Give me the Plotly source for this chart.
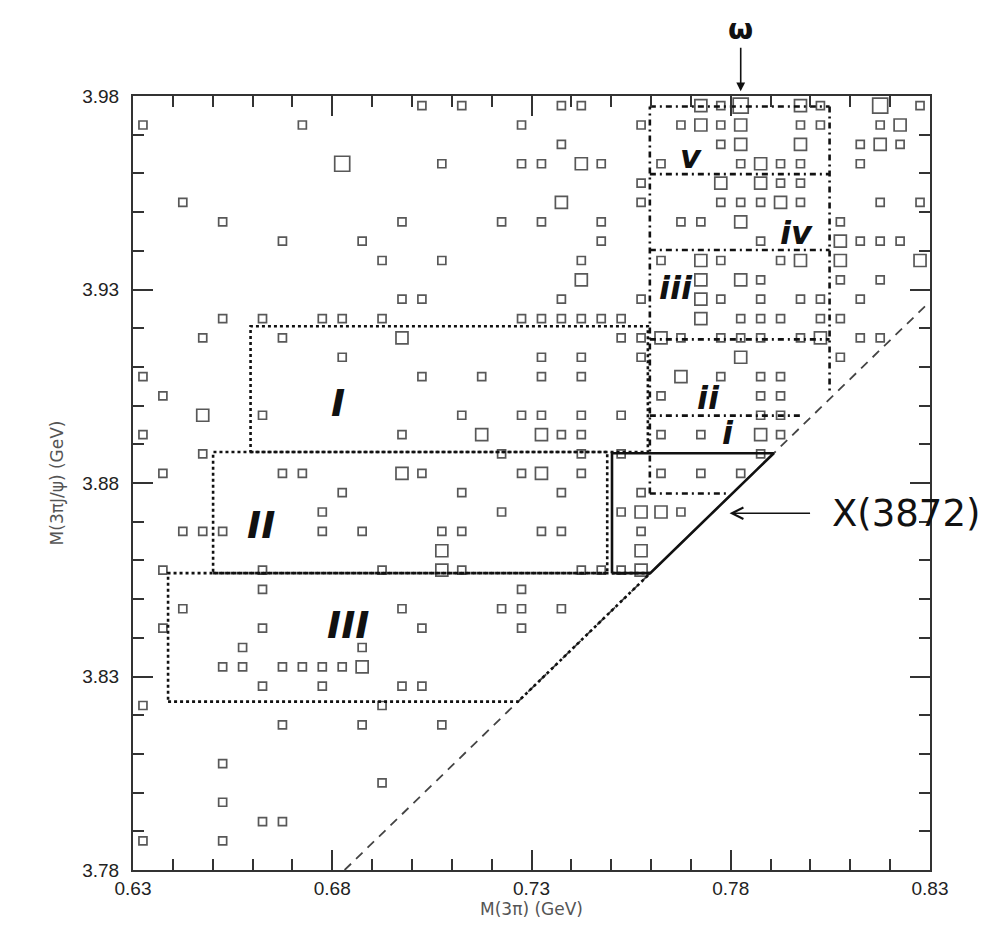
import plotly.graph_objects as go

# ---- event bins (M(3pi), M(3pi J/psi)) and counts per 5 MeV x 5 MeV bin ----
m3pi = [
    0.7025, 0.7125, 0.7375, 0.7425, 0.7725, 0.7775, 0.7825, 0.7975, 0.8025, 0.8175, 0.8275,
    0.6325, 0.6725, 0.7275, 0.7575, 0.7675, 0.7725, 0.7775, 0.7825, 0.7975, 0.8025, 0.8175, 0.8225,
    0.7375, 0.7775, 0.7825, 0.7975, 0.8125, 0.8175, 0.8225,
    0.6825, 0.7075, 0.7275, 0.7325, 0.7425, 0.7475, 0.7625, 0.7825, 0.7875, 0.7925, 0.7975, 0.8125,
    0.7575, 0.7775, 0.7875, 0.7925, 0.7975,
    0.6425, 0.7375, 0.7575, 0.7775, 0.7825, 0.7875, 0.7925, 0.7975, 0.8175, 0.8275,
    0.6525, 0.6975, 0.7225, 0.7325, 0.7475, 0.7675, 0.7725, 0.7825, 0.8075,
    0.6675, 0.6875, 0.7475, 0.7875, 0.8075, 0.8125, 0.8175, 0.8225,
    0.6925, 0.7075, 0.7425, 0.7625, 0.7725, 0.7775, 0.7925, 0.7975, 0.8075, 0.8275,
    0.7425, 0.7725, 0.7825, 0.7875, 0.8075, 0.8175,
    0.6975, 0.7025, 0.7375, 0.7575, 0.7725, 0.7775, 0.7875, 0.7975, 0.8025, 0.8125,
    0.6525, 0.6625, 0.6775, 0.6825, 0.6925, 0.7275, 0.7325, 0.7375, 0.7425, 0.7475, 0.7525,
    0.7725, 0.7825, 0.7875, 0.7925, 0.8025, 0.8075,
    0.6475, 0.6675, 0.6975, 0.7525, 0.7575, 0.7625, 0.7675, 0.7775, 0.7825, 0.7875, 0.7975,
    0.8025, 0.8125, 0.8175,
    0.6825, 0.7325, 0.7425, 0.7575, 0.7825, 0.8075,
    0.6325, 0.7025, 0.7175, 0.7325, 0.7425, 0.7675, 0.7775, 0.7875, 0.7925,
    0.6375, 0.7625, 0.7875, 0.7925,
    0.6475, 0.6625, 0.7125, 0.7275, 0.7325, 0.7425, 0.7525, 0.7875, 0.7925,
    0.6325, 0.6975, 0.7175, 0.7325, 0.7375, 0.7425, 0.7625, 0.7725, 0.7875, 0.7925,
    0.6475, 0.7225, 0.7425, 0.7525, 0.7875,
    0.6375, 0.6675, 0.6725, 0.6975, 0.7025, 0.7275, 0.7325, 0.7425, 0.7625, 0.7725, 0.7825,
    0.6825, 0.7125, 0.7375, 0.7575,
    0.6775, 0.7225, 0.7525, 0.7575, 0.7625, 0.7675,
    0.6425, 0.6475, 0.6525, 0.6775, 0.6875, 0.7075, 0.7125, 0.7325, 0.7375, 0.7575,
    0.7075, 0.7575,
    0.6375, 0.6625, 0.6925, 0.7075, 0.7125, 0.7425, 0.7475, 0.7525, 0.7575,
    0.6625, 0.7275,
    0.6425, 0.6975, 0.7225, 0.7275, 0.7375,
    0.6375, 0.6625, 0.7025, 0.7275,
    0.6575, 0.6875,
    0.6525, 0.6575, 0.6675, 0.6725, 0.6775, 0.6825, 0.6875,
    0.6625, 0.6775, 0.6975, 0.7025,
    0.6325, 0.6925,
    0.6675, 0.6875, 0.7075,
    0.6525,
    0.6925,
    0.6525,
    0.6625, 0.6675,
    0.6325, 0.6525,
]
m3pijpsi = (
    [3.9775] * 11 + [3.9725] * 12 + [3.9675] * 7 + [3.9625] * 12 + [3.9575] * 5
    + [3.9525] * 10 + [3.9475] * 9 + [3.9425] * 8 + [3.9375] * 10 + [3.9325] * 6
    + [3.9275] * 10 + [3.9225] * 17 + [3.9175] * 14 + [3.9125] * 6 + [3.9075] * 9
    + [3.9025] * 4 + [3.8975] * 9 + [3.8925] * 10 + [3.8875] * 5 + [3.8825] * 11
    + [3.8775] * 4 + [3.8725] * 6 + [3.8675] * 10 + [3.8625] * 2 + [3.8575] * 9
    + [3.8525] * 2 + [3.8475] * 5 + [3.8425] * 4 + [3.8375] * 2 + [3.8325] * 7
    + [3.8275] * 4 + [3.8225] * 2 + [3.8175] * 3 + [3.8075] * 1 + [3.8025] * 1
    + [3.7975] * 1 + [3.7925] * 2 + [3.7875] * 2
)
counts = [
    1, 1, 1, 1, 2, 1, 3, 2, 1, 3, 1,
    1, 1, 1, 1, 1, 2, 1, 2, 1, 1, 1, 2,
    1, 1, 2, 2, 1, 2, 1,
    3, 1, 1, 1, 2, 1, 1, 1, 2, 1, 1, 1,
    1, 2, 2, 1, 1,
    1, 2, 1, 1, 1, 1, 2, 1, 1, 1,
    1, 1, 1, 1, 1, 1, 1, 2, 1,
    1, 1, 1, 1, 2, 1, 1, 1,
    1, 1, 1, 1, 2, 1, 1, 2, 2, 2,
    2, 2, 2, 1, 1, 1,
    1, 1, 1, 1, 2, 1, 1, 1, 1, 1,
    1, 1, 1, 1, 1, 1, 1, 1, 1, 1, 1,
    2, 1, 1, 1, 1, 1,
    1, 1, 2, 1, 1, 2, 1, 1, 1, 1, 1,
    2, 1, 1,
    1, 1, 1, 1, 2, 1,
    1, 1, 1, 1, 1, 2, 1, 1, 1,
    1, 1, 1, 1,
    2, 1, 1, 1, 1, 1, 1, 1, 1,
    1, 1, 2, 2, 1, 1, 1, 1, 2, 1,
    1, 1, 1, 1, 1,
    1, 1, 1, 2, 1, 1, 2, 1, 1, 1, 1,
    1, 1, 1, 1,
    1, 1, 1, 2, 2, 1,
    1, 1, 1, 1, 1, 1, 1, 1, 1, 1,
    2, 2,
    1, 1, 1, 2, 1, 1, 1, 1, 2,
    1, 1,
    1, 1, 1, 1, 1,
    1, 1, 1, 1,
    1, 1,
    1, 1, 1, 1, 1, 1, 2,
    1, 1, 1, 1,
    1, 1,
    1, 1, 1,
    1,
    1,
    1,
    1, 1,
    1, 1,
]

# ---- region boundaries ----
threshold_x = [0.6831, 0.83]            # M(3piJ/psi) = M(3pi) + M(J/psi)
jpsi_mass = 3.0969
regI_x = [0.6595, 0.7592, 0.7592, 0.6595, 0.6595]
regI_y = [3.8880, 3.8880, 3.9205, 3.9205, 3.8880]
regII_x = [0.6501, 0.7490, 0.7490, 0.6501, 0.6501]
regII_y = [3.8567, 3.8567, 3.8880, 3.8880, 3.8567]
regIII_x = [0.6388, 0.7266, 0.7598, 0.6388, 0.6388]
regIII_y = [3.8235, 3.8235, 3.8567, 3.8567, 3.8235]
regX_x = [0.7502, 0.7598, 0.7908, 0.7502, 0.7502]
regX_y = [3.8567, 3.8567, 3.8877, 3.8877, 3.8567]
omega_left = 0.7597
omega_right = 0.8048
omega_div_y = [3.9773, 3.9598, 3.9402, 3.9171, 3.8974, 3.8773]
omega_div_xend = [0.8048, 0.8048, 0.8048, 0.8048, 0.7977, 0.7797]
omega_right_y = [3.9773, 3.9030]

region_labels = ["I", "II", "III", "v", "iv", "iii", "ii", "i"]
region_label_x = [0.6814, 0.6622, 0.6839, 0.7701, 0.7964, 0.7662, 0.7743, 0.7793]
region_label_y = [3.9006, 3.8691, 3.8433, 3.9643, 3.9445, 3.9303, 3.9019, 3.8928]

size_map = {1: 8, 2: 12, 3: 15}
sizes = [size_map[c] for c in counts]

fig = go.Figure()

# threshold line (dashed)
fig.add_trace(go.Scatter(
    x=threshold_x, y=[v + jpsi_mass for v in threshold_x], mode="lines",
    line=dict(color="#444", width=1.8, dash="9px,7px"), hoverinfo="skip", showlegend=False))

def poly(xs, ys, dash, width=2.6, color="#111"):
    fig.add_trace(go.Scatter(x=xs, y=ys, mode="lines",
                             line=dict(color=color, width=width, dash=dash),
                             hoverinfo="skip", showlegend=False))

poly(regI_x, regI_y, "dot")
poly(regII_x, regII_y, "dot")
poly(regIII_x, regIII_y, "dot")
poly(regX_x, regX_y, "solid", width=2.6)

# omega dash-dot region grid
dd = "6px,4px,2px,4px"
poly([omega_left, omega_left], [omega_div_y[-1], omega_div_y[0]], dd)
poly([omega_right, omega_right], omega_right_y, dd)
for yv, xe in zip(omega_div_y, omega_div_xend):
    poly([omega_left, xe], [yv, yv], dd)

# events
fig.add_trace(go.Scatter(
    x=m3pi, y=m3pijpsi, mode="markers",
    marker=dict(symbol="square-open", size=sizes, color="#111",
                line=dict(width=1.7, color="#111")),
    showlegend=False, cliponaxis=False))

for t, xv, yv in zip(region_labels, region_label_x, region_label_y):
    sz = 38 if t.isupper() else 32
    fig.add_annotation(x=xv, y=yv, text="<b><i>" + t + "</i></b>", showarrow=False,
                       font=dict(family="DejaVu Sans", size=sz, color="#111"),
                       xref="x", yref="y")

# omega marker (paper coords: 1.0 = top of frame, frame height 774 px)
fig.add_annotation(x=0.7825, xref="x", y=1.006, yref="paper", ax=0, ay=-62,
                   text="<b>ω</b>", showarrow=True, arrowhead=2, arrowsize=1.1,
                   arrowwidth=1.6, arrowcolor="#111",
                   font=dict(family="DejaVu Sans", size=29, color="#111"))

# X(3872) marker
fig.add_annotation(x=0.7797, y=3.8722, ax=82, ay=0, text="", showarrow=True,
                   arrowhead=5, arrowsize=1.4, arrowwidth=1.6, arrowcolor="#111")
fig.add_annotation(x=0.8050, y=3.8722, text="X(3872)", showarrow=False, xanchor="left",
                   font=dict(family="DejaVu Sans", size=37, color="#111"))

axis_common = dict(
    ticks="inside", ticklen=20, tickwidth=1.5, tickcolor="#333",
    showline=True, linewidth=2, linecolor="#333", mirror="allticks",
    showgrid=False, zeroline=False, tickformat=".2f", automargin=False,
    tickfont=dict(family="Liberation Sans", size=19, color="#222"),
)

title_font = dict(family="DejaVu Sans", size=17, color="#555")
fig.update_xaxes(range=[0.63, 0.83], tick0=0.63, dtick=0.05,
                 minor=dict(tick0=0.63, dtick=0.01, ticks="inside", ticklen=11,
                            tickwidth=1.5, tickcolor="#333"),
                 title=dict(text="M(3π) (GeV)", font=title_font, standoff=3),
                 **axis_common)
fig.update_yaxes(range=[3.78, 3.98], tick0=3.78, dtick=0.05,
                 minor=dict(tick0=3.78, dtick=0.01, ticks="inside", ticklen=11,
                            tickwidth=1.5, tickcolor="#333"),
                 title=dict(text="M(3πJ/ψ) (GeV)", font=title_font, standoff=14),
                 ticklabelstandoff=8,
                 **axis_common)

fig.update_layout(width=987, height=941, margin=dict(l=125, r=65, t=88, b=79),
                  plot_bgcolor="white", paper_bgcolor="white")

fig.write_html("out.html")
